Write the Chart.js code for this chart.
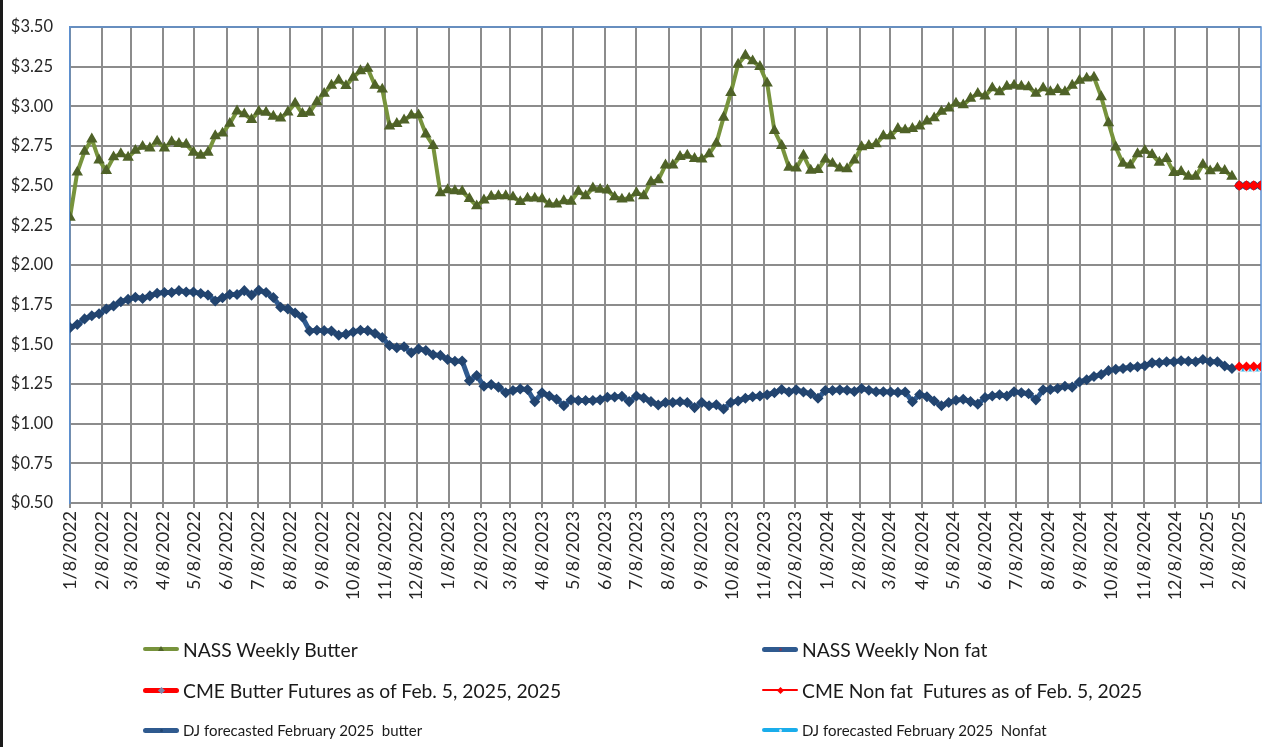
<!DOCTYPE html>
<html>
<head>
<meta charset="utf-8">
<title>NASS Butter and Nonfat Weekly Prices</title>
<script src="https://cdn.jsdelivr.net/npm/chart.js@4.4.1/dist/chart.umd.min.js"></script>
<style>
  html, body { margin: 0; padding: 0; background: #fff; }
  #wrap { position: relative; width: 1270px; height: 747px; overflow: hidden; font-family: Lato, "Open Sans", sans-serif; }
  #frame { position: absolute; left: 0; top: 0; width: 3px; height: 747px; background: #1a1a1a; }
  .lg { position: absolute; display: flex; align-items: center; color: #1a1a1a; white-space: pre; }
  .lg .swatch { position: relative; width: 36px; margin-right: 4px; }
  .lg .bar { position: absolute; left: 0; right: 0; top: 50%; border-radius: 3px; }
  .lg .dot { position: absolute; left: 50%; top: 50%; }
</style>
</head>
<body>
<div id="wrap">
  <canvas id="chart" width="1270" height="747"></canvas>
  <div id="frame"></div>
</div>
<script>
"use strict";

// monthly tick labels on the date axis
const tickLabels = [
    "1/8/2022", "2/8/2022", "3/8/2022", "4/8/2022", "5/8/2022", "6/8/2022",
    "7/8/2022", "8/8/2022", "9/8/2022", "10/8/2022", "11/8/2022", "12/8/2022",
    "1/8/2023", "2/8/2023", "3/8/2023", "4/8/2023", "5/8/2023", "6/8/2023",
    "7/8/2023", "8/8/2023", "9/8/2023", "10/8/2023", "11/8/2023", "12/8/2023",
    "1/8/2024", "2/8/2024", "3/8/2024", "4/8/2024", "5/8/2024", "6/8/2024",
    "7/8/2024", "8/8/2024", "9/8/2024", "10/8/2024", "11/8/2024", "12/8/2024",
    "1/8/2025", "2/8/2025"
];
const axisEnd = "3/1/2025";

// NASS weekly reports, first week and weekly after that
const nassStart = "1/8/2022";

const nassButter = [
    2.30, 2.584, 2.715, 2.793, 2.66, 2.594, 2.68, 2.70, 2.678, 2.721,
    2.746, 2.736, 2.779, 2.736, 2.776, 2.764, 2.76, 2.709, 2.69, 2.709,
    2.813, 2.83, 2.891, 2.969, 2.951, 2.916, 2.967, 2.961, 2.936, 2.924,
    2.963, 3.019, 2.953, 2.961, 3.027, 3.08, 3.131, 3.164, 3.129, 3.182,
    3.223, 3.238, 3.131, 3.107, 2.875, 2.89, 2.912, 2.943, 2.945, 2.824,
    2.752, 2.453, 2.473, 2.467, 2.463, 2.418, 2.371, 2.408, 2.432, 2.435,
    2.435, 2.428, 2.398, 2.42, 2.42, 2.416, 2.383, 2.383, 2.404, 2.40,
    2.463, 2.435, 2.484, 2.475, 2.471, 2.428, 2.414, 2.42, 2.455, 2.435,
    2.523, 2.535, 2.629, 2.629, 2.682, 2.69, 2.67, 2.666, 2.699, 2.767,
    2.93, 3.086, 3.264, 3.32, 3.285, 3.25, 3.145, 2.846, 2.752, 2.615,
    2.609, 2.69, 2.596, 2.60, 2.666, 2.639, 2.609, 2.605, 2.66, 2.744,
    2.752, 2.762, 2.813, 2.813, 2.859, 2.85, 2.859, 2.875, 2.906, 2.926,
    2.967, 2.988, 3.019, 3.008, 3.049, 3.08, 3.064, 3.115, 3.09, 3.125,
    3.131, 3.125, 3.121, 3.08, 3.115, 3.09, 3.105, 3.09, 3.131, 3.162,
    3.176, 3.182, 3.059, 2.895, 2.742, 2.639, 2.629, 2.70, 2.721, 2.695,
    2.646, 2.67, 2.582, 2.588, 2.558, 2.558, 2.633, 2.592, 2.609, 2.594, 2.558
];

const nassNonfat = [
    1.605, 1.625, 1.66, 1.68, 1.693, 1.722, 1.742, 1.768, 1.783, 1.797,
    1.789, 1.805, 1.822, 1.826, 1.826, 1.838, 1.83, 1.83, 1.82, 1.81,
    1.773, 1.793, 1.814, 1.814, 1.838, 1.81, 1.84, 1.826, 1.795, 1.734,
    1.723, 1.697, 1.672, 1.584, 1.588, 1.586, 1.584, 1.557, 1.564, 1.578,
    1.588, 1.586, 1.568, 1.543, 1.492, 1.478, 1.484, 1.447, 1.471, 1.461,
    1.434, 1.43, 1.404, 1.393, 1.395, 1.27, 1.303, 1.236, 1.246, 1.23,
    1.195, 1.209, 1.219, 1.215, 1.138, 1.195, 1.174, 1.154, 1.113, 1.15,
    1.146, 1.146, 1.146, 1.15, 1.166, 1.168, 1.172, 1.139, 1.174, 1.162,
    1.139, 1.117, 1.133, 1.133, 1.138, 1.133, 1.101, 1.133, 1.113, 1.119,
    1.092, 1.133, 1.143, 1.16, 1.17, 1.174, 1.182, 1.195, 1.215, 1.199,
    1.213, 1.199, 1.189, 1.16, 1.209, 1.209, 1.213, 1.211, 1.203, 1.221,
    1.211, 1.201, 1.201, 1.199, 1.197, 1.199, 1.138, 1.184, 1.17, 1.143,
    1.113, 1.133, 1.147, 1.154, 1.139, 1.123, 1.164, 1.174, 1.182, 1.174,
    1.201, 1.195, 1.189, 1.15, 1.213, 1.215, 1.221, 1.236, 1.23, 1.262,
    1.277, 1.297, 1.31, 1.334, 1.342, 1.348, 1.355, 1.359, 1.365, 1.383,
    1.383, 1.39, 1.39, 1.396, 1.393, 1.39, 1.404, 1.39, 1.39, 1.363, 1.348
];

// futures / forecast weeks
const futureWeeks = ["2/8/2025", "2/15/2025", "2/22/2025", "3/1/2025"];
const cmeButter = [2.50, 2.50, 2.50, 2.50];
const cmeNonfat = [1.36, 1.36, 1.36, 1.36];
const djButter = [2.50, 2.50, 2.50, 2.50];
const djNonfat = [1.34, 1.34, 1.34, 1.34];

function dayOf(sDate) {
    const a = sDate.split("/").map(Number);
    return (Date.UTC(a[2], a[0] - 1, a[1]) - Date.UTC(2022, 0, 8)) / 86400000;
}

function weekly(aValues) {
    const iStart = dayOf(nassStart);
    return aValues.map(function(v, i) {
        return { x: iStart + 7 * i, y: v };
    });
}

function futures(aValues) {
    return aValues.map(function(v, i) {
        return { x: dayOf(futureWeeks[i]), y: v };
    });
}

const tickDays = tickLabels.map(dayOf);

const oDatasets = [
    {
        label: "CME Butter Futures as of Feb. 5, 2025, 2025",
        data: futures(cmeButter),
        borderColor: "#FF0000", backgroundColor: "#FF0000",
        borderWidth: 2.5, pointStyle: "rectRot", pointRadius: 3.5,
        pointBorderColor: "#FF0000", pointBackgroundColor: "#FF0000",
        order: 0,
        lg: { col: 0, row: 1, size: 19.3, bar: 5, dot: "#7f86a8", dotShape: "diamond" }
    },
    {
        label: "CME Non fat  Futures as of Feb. 5, 2025",
        data: futures(cmeNonfat),
        borderColor: "#FF0000", backgroundColor: "#FF0000",
        borderWidth: 2, pointStyle: "rectRot", pointRadius: 3.5,
        pointBorderColor: "#FF0000", pointBackgroundColor: "#FF0000",
        order: 1,
        lg: { col: 1, row: 1, size: 19.3, bar: 2.5, dot: "#FF0000", dotShape: "diamond" }
    },
    {
        label: "NASS Weekly Butter",
        data: weekly(nassButter),
        borderColor: "#77933C", backgroundColor: "#4F6228",
        borderWidth: 4, pointStyle: "triangle", pointRadius: 2.6,
        pointBorderColor: "#4F6228", pointBackgroundColor: "#4F6228",
        order: 2,
        lg: { col: 0, row: 0, size: 19.3, bar: 4, dot: "#4F6228", dotShape: "triangle" }
    },
    {
        label: "NASS Weekly Non fat",
        data: weekly(nassNonfat),
        borderColor: "#2F5A8F", backgroundColor: "#22446F",
        borderWidth: 5, pointStyle: "rectRot", pointRadius: 2,
        pointBorderColor: "#22446F", pointBackgroundColor: "#22446F",
        order: 3,
        lg: { col: 1, row: 0, size: 19.3, bar: 5, dot: "#7a3b5a", dotShape: "dot" }
    },
    {
        label: "DJ forecasted February 2025  butter",
        data: futures(djButter),
        borderColor: "#2F5A8F", backgroundColor: "#22446F",
        borderWidth: 5, pointStyle: "circle", pointRadius: 2,
        pointBorderColor: "#22446F", pointBackgroundColor: "#22446F",
        order: 4,
        lg: { col: 0, row: 2, size: 15, bar: 5, dot: "#22446F", dotShape: "dot" }
    },
    {
        label: "DJ forecasted February 2025  Nonfat",
        data: futures(djNonfat),
        borderColor: "#1AADEB", backgroundColor: "#1AADEB",
        borderWidth: 3.5, pointStyle: "crossRot", pointRadius: 2.5,
        pointBorderColor: "#d8e6f0", pointBackgroundColor: "#d8e6f0",
        order: 5,
        lg: { col: 1, row: 2, size: 15, bar: 4, dot: "#d8e6f0", dotShape: "dot" }
    }
];

// blue plot-area frame on top and right
const plotFrame = {
    id: "plotFrame",
    beforeDatasetsDraw: function(oChart) {
        const a = oChart.chartArea;
        const ctx = oChart.ctx;
        ctx.save();
        ctx.strokeStyle = "#5B8FD0";
        ctx.lineWidth = 1.5;
        ctx.beginPath();
        ctx.moveTo(a.left, a.top);
        ctx.lineTo(a.right, a.top);
        ctx.lineTo(a.right, a.bottom);
        ctx.stroke();
        ctx.restore();
    }
};

const oCanvasContext = document.getElementById("chart").getContext("2d");

const oChart = new Chart(oCanvasContext, {
    type: "line",
    data: { datasets: oDatasets },
    plugins: [plotFrame],
    options: {
        responsive: false,
        animation: false,
        devicePixelRatio: 1,
        layout: { padding: { top: 15, right: 5, left: 0, bottom: 0 } },
        elements: { line: { tension: 0 } },
        plugins: {
            legend: { display: false },
            tooltip: { enabled: false },
            title: { display: false }
        },
        scales: {
            x: {
                type: "linear",
                min: dayOf(nassStart),
                max: dayOf(axisEnd),
                afterFit: function(oScale) { oScale.height = 244; },
                afterBuildTicks: function(oScale) {
                    oScale.ticks = tickDays.map(function(v) { return { value: v }; });
                },
                ticks: {
                    autoSkip: false,
                    minRotation: 90,
                    maxRotation: 90,
                    padding: 3,
                    color: "#262626",
                    font: { family: "Lato", size: 18 },
                    callback: function(v, i) { return tickLabels[i]; }
                },
                grid: {
                    color: "#8C8C8C",
                    lineWidth: 2,
                    drawTicks: true,
                    tickLength: 5
                },
                border: { color: "#8C8C8C", width: 2 }
            },
            y: {
                min: 0.5,
                max: 3.5,
                afterFit: function(oScale) { oScale.width = 70; },
                ticks: {
                    stepSize: 0.25,
                    padding: 17,
                    color: "#262626",
                    font: { family: "Lato", size: 16.5 },
                    callback: function(v) { return "$" + v.toFixed(2); }
                },
                grid: {
                    color: "#8C8C8C",
                    lineWidth: 2,
                    drawTicks: false
                },
                border: { color: "#5B8FD0", width: 1.5 }
            }
        }
    }
});

// legend below the plot, two columns, three rows
const aColX = [143, 762];
const aRowY = [649, 690, 730];
const oWrap = document.getElementById("wrap");
oDatasets.forEach(function(oDs) {
    const l = oDs.lg;
    const oItem = document.createElement("div");
    oItem.className = "lg";
    oItem.style.left = aColX[l.col] + "px";
    oItem.style.top = (aRowY[l.row] - 14) + "px";
    oItem.style.height = "28px";
    oItem.style.fontSize = l.size + "px";

    const oSwatch = document.createElement("div");
    oSwatch.className = "swatch";
    oSwatch.style.height = "28px";
    const oBar = document.createElement("div");
    oBar.className = "bar";
    oBar.style.height = l.bar + "px";
    oBar.style.marginTop = (-l.bar / 2) + "px";
    oBar.style.background = oDs.borderColor;
    const oDot = document.createElement("div");
    oDot.className = "dot";
    if (l.dotShape === "triangle") {
        oDot.style.width = "0"; oDot.style.height = "0";
        oDot.style.borderLeft = "3px solid transparent";
        oDot.style.borderRight = "3px solid transparent";
        oDot.style.borderBottom = "5px solid " + l.dot;
        oDot.style.marginLeft = "-3px"; oDot.style.marginTop = "-3px";
    } else if (l.dotShape === "diamond") {
        oDot.style.width = "5px"; oDot.style.height = "5px";
        oDot.style.background = l.dot;
        oDot.style.transform = "rotate(45deg)";
        oDot.style.marginLeft = "-2.5px"; oDot.style.marginTop = "-2.5px";
    } else {
        oDot.style.width = "3px"; oDot.style.height = "3px";
        oDot.style.borderRadius = "50%";
        oDot.style.background = l.dot;
        oDot.style.marginLeft = "-1.5px"; oDot.style.marginTop = "-1.5px";
    }
    oSwatch.appendChild(oBar);
    oSwatch.appendChild(oDot);

    const oText = document.createElement("span");
    oText.textContent = oDs.label;

    oItem.appendChild(oSwatch);
    oItem.appendChild(oText);
    oWrap.appendChild(oItem);
});
</script>
</body>
</html>
